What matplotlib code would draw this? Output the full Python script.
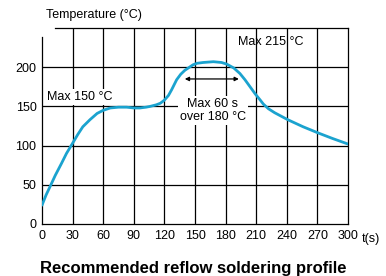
import matplotlib
matplotlib.use("Agg")
import matplotlib.pyplot as plt

# reflow profile
time_s = [0, 4, 8, 13, 19, 24, 30, 35, 40, 47, 54, 60, 67, 75, 83, 90, 96, 102, 106,
          112, 116, 120, 124, 127, 132, 136, 140, 148, 152, 158, 168, 176, 181, 188,
          194, 199, 204, 209, 214, 217, 222, 228, 241, 256, 271, 285, 300]
temp_c = [24, 37, 48, 62, 77, 90, 103, 114, 124, 133, 141, 145, 148, 149, 149, 148, 148, 149, 150,
          152, 154, 158, 164, 171, 184, 191, 196, 203, 205, 206, 207, 206, 204, 199,
          192, 184, 175, 166, 158, 153, 147, 142, 133, 124, 116, 109, 102]

xticks = [0, 30, 60, 90, 120, 150, 180, 210, 240, 270, 300]
yticks = [0, 50, 100, 150, 200]
window = [140, 193]  # "max 60 s over 180" arrow span
window_temp = 185

plt.rcParams['font.family'] = ['Liberation Sans', 'DejaVu Sans']

fig = plt.figure(figsize=(3.86, 2.76), dpi=100)
ax = fig.add_axes([42/386, 52/276, 306/386, 196/276])
ax.set_xlim(0, 300)
ax.set_ylim(0, 250)

for x in xticks[1:-1]:
    ax.axvline(x, color='black', lw=0.9, zorder=1)
for y in yticks[1:]:
    ax.axhline(y, color='black', lw=0.9, zorder=1)

for s in ax.spines.values():
    s.set_linewidth(0.9)
ax.spines['left'].set_bounds(0, 238)
ax.spines['top'].set_bounds(13, 300)

ax.plot(time_s, temp_c, color='#1ba3cf', lw=2.0, zorder=3,
        solid_capstyle='round', solid_joinstyle='round')

ax.set_xticks(xticks)
ax.set_yticks(yticks)
ax.tick_params(length=0, labelsize=9, pad=4)

ax.text(1.046, -0.045, 't(s)', transform=ax.transAxes, fontsize=9, va='top', ha='left')
fig.text(46/386, 1 - 15/276, 'Temperature (°C)', fontsize=9, va='center', ha='left')

box = dict(facecolor='white', edgecolor='none', pad=1.5)
ax.text(5, 162, 'Max 150 °C', fontsize=9, va='center', ha='left', bbox=box, zorder=4)
ax.text(192, 232, 'Max 215 °C', fontsize=9, va='center', ha='left', zorder=4)
ax.text(167.5, 145, 'Max 60 s\nover 180 °C', fontsize=9, va='center', ha='center',
        linespacing=1.15, bbox=box, zorder=4)
ax.annotate('', xy=(window[0], window_temp), xytext=(window[1], window_temp),
            arrowprops=dict(arrowstyle='<|-|>', color='black', lw=0.9,
                            mutation_scale=6, shrinkA=0, shrinkB=0), zorder=4)

fig.text(0.5, 1 - 268/276, 'Recommended reflow soldering profile',
         fontsize=12, fontweight='bold', ha='center', va='center')

fig.savefig('out.png', dpi=100)
